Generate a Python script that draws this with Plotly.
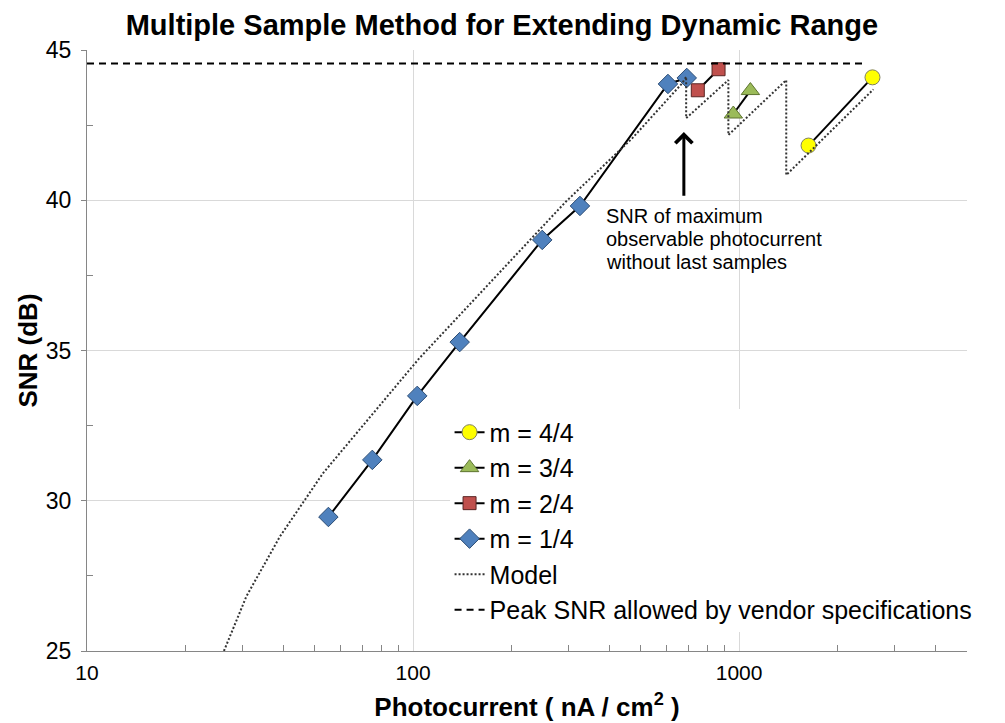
import math
import plotly.graph_objects as go

# ---- data ----
m14_x = [55, 75, 103, 139, 249, 325, 605, 691]
m14_y = [29.46, 31.36, 33.49, 35.28, 38.68, 39.81, 43.87, 44.07]
m24_x = [747, 865]
m24_y = [43.66, 44.36]
m34_x = [960, 1083]
m34_y = [42.87, 43.65]
m44_x = [1633, 2565]
m44_y = [41.82, 44.09]
model_x = [26.3, 30.8, 39.0, 52.9, 91.9, 104.5, 294, 470, 668.6, 688, 688, 927, 927, 1395, 1395, 2582]
model_y = [25.0, 26.81, 28.80, 30.91, 34.02, 34.74, 39.95, 42.06, 43.89, 44.11, 42.73, 44.0, 42.17, 44.0, 40.84, 43.69]
peak_x = [10, 2441]
peak_y = [44.55, 44.55]

x_major = [10, 100, 1000]
x_minor = [20, 30, 40, 50, 60, 70, 80, 90, 200, 300, 400, 500, 600, 700, 800, 900, 2000, 3000, 4000]
y_major = [25, 30, 35, 40, 45]
y_minor = [27.5, 32.5, 37.5, 42.5]

note_lines = ["SNR of maximum", "observable photocurrent", "without last samples"]
note_y = [39.48, 38.71, 37.95]

FONT = "Arial, Liberation Sans, sans-serif"

fig = go.Figure()

fig.add_trace(go.Scatter(
    x=m44_x, y=m44_y, name="m = 4/4", mode="lines+markers",
    line=dict(color="black", width=2),
    marker=dict(symbol="circle", size=15, color="#FFFF00", line=dict(color="#808060", width=1))))
fig.add_trace(go.Scatter(
    x=m34_x, y=m34_y, name="m = 3/4", mode="lines+markers",
    line=dict(color="black", width=2),
    marker=dict(symbol="triangle-up", size=16, color="#9BBB59", line=dict(color="#5E7530", width=1))))
fig.add_trace(go.Scatter(
    x=m24_x, y=m24_y, name="m = 2/4", mode="lines+markers",
    line=dict(color="black", width=2),
    marker=dict(symbol="square", size=13, color="#C0504D", line=dict(color="#5A2624", width=1))))
fig.add_trace(go.Scatter(
    x=m14_x, y=m14_y, name="m = 1/4", mode="lines+markers",
    line=dict(color="black", width=2),
    marker=dict(symbol="diamond", size=15, color="#4F81BD", line=dict(color="#2C4D75", width=1))))
fig.add_trace(go.Scatter(
    x=model_x, y=model_y, name="Model", mode="lines",
    line=dict(color="#333333", width=2, dash="2px,2px")))
fig.add_trace(go.Scatter(
    x=peak_x, y=peak_y, name="Peak SNR allowed by vendor specifications", mode="lines",
    line=dict(color="black", width=2, dash="7px,5px")))

# arrow (annotation on log axis uses log10 coords)
fig.add_annotation(
    x=math.log10(677), y=42.27, ax=math.log10(677), ay=40.1,
    xref="x", yref="y", axref="x", ayref="y",
    text="", showarrow=True, arrowhead=4, arrowsize=1.1, arrowwidth=3, arrowcolor="black")
for line_text, ly in zip(note_lines, note_y):
    fig.add_annotation(
        x=2.5855, y=ly, xref="x", yref="y",
        text=line_text, showarrow=False, xanchor="left", yanchor="middle", align="left",
        font=dict(family=FONT, size=20, color="black"))

fig.update_layout(
    width=1005, height=723,
    margin=dict(l=79, r=46, t=42, b=80),
    paper_bgcolor="white", plot_bgcolor="white",
    font=dict(family=FONT, color="black"),
    title=dict(text="<b>Multiple Sample Method for Extending Dynamic Range</b>",
               x=0.4915, xref="container", xanchor="center", y=0.977, yanchor="middle",
               font=dict(family=FONT, size=29, color="black")),
    showlegend=True,
    legend=dict(x=0.412, y=0.402, xanchor="left", yanchor="top",
                bgcolor="white", borderwidth=0,
                font=dict(family=FONT, size=25, color="black"),
                traceorder="normal", itemwidth=30, tracegroupgap=0),
)

fig.update_xaxes(
    type="log", range=[1, math.log10(5000)],
    tickvals=x_major, ticktext=[str(v) for v in x_major],
    tickfont=dict(family=FONT, size=21, color="black"),
    ticklabelstandoff=3,
    showgrid=True, gridcolor="#D9D9D9", gridwidth=1,
    showline=True, linecolor="#868686", linewidth=1,
    ticks="", zeroline=False,
    minor=dict(tickvals=x_minor, ticks="inside", ticklen=6, tickcolor="#868686", showgrid=False),
    title=dict(text="<b>Photocurrent ( nA / cm<sup>2</sup> )</b>",
               font=dict(family=FONT, size=26, color="black"), standoff=14),
)
fig.update_yaxes(
    range=[25, 45],
    tickvals=y_major,
    tickfont=dict(family=FONT, size=23, color="black"),
    ticklabelstandoff=5,
    showgrid=True, gridcolor="#D9D9D9", gridwidth=1,
    showline=True, linecolor="#868686", linewidth=1,
    ticks="outside", ticklen=5, tickcolor="#868686", zeroline=False,
    minor=dict(tickvals=y_minor, ticks="inside", ticklen=6, tickcolor="#868686", showgrid=False),
    title=dict(text="<b>SNR (dB)</b>",
               font=dict(family=FONT, size=26, color="black"), standoff=0),
)

fig.write_html("out.html")
